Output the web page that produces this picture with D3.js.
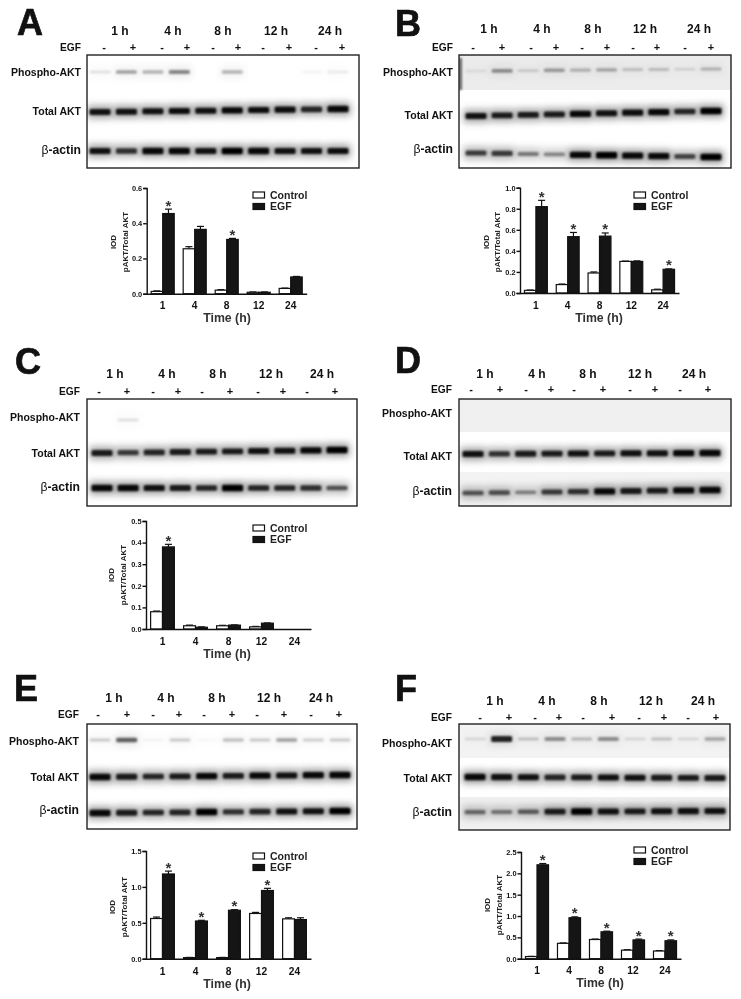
<!DOCTYPE html>
<html>
<head>
    <meta charset="UTF-8">
    <title>AKT phosphorylation after EGF</title>
    <style>
        body { margin: 0; background: #fff; }
        svg { display: block; filter: blur(0.5px); }
        text { font-family: "Liberation Sans", Arial, sans-serif; font-weight: bold; fill: #111; }
    </style>
</head>
<body>
    <div id="figure"></div>

    <script src="https://d3js.org/d3.v7.min.js"></script>
    <script>
        // shared labels
        var hours = ["1", "4", "8", "12", "24"];
        var timeLabels = ["1 h", "4 h", "8 h", "12 h", "24 h"];
        var signs = ["-", "+", "-", "+", "-", "+", "-", "+", "-", "+"];
        var rowNames = ["Phospho-AKT", "Total AKT", "-actin"];
        var seriesNames = ["Control", "EGF"];

        // bar values
        var controlA = [0.013, 0.255, 0.02, 0.008, 0.03];
        var egfA = [0.455, 0.365, 0.308, 0.008, 0.095];
        var controlErrA = [0.003, 0.012, 0.003, 0.002, 0.002];
        var egfErrA = [0.025, 0.017, 0.006, 0.002, 0.003];
        var starsA = ["1", "8"];

        var controlB = [0.025, 0.08, 0.19, 0.30, 0.03];
        var egfB = [0.82, 0.535, 0.54, 0.30, 0.225];
        var controlErrB = [0.003, 0.005, 0.01, 0.003, 0.006];
        var egfErrB = [0.06, 0.04, 0.03, 0.005, 0.004];
        var starsB = ["1", "4", "8", "24"];

        var controlC = [0.08, 0.015, 0.015, 0.01, 0];
        var egfC = [0.38, 0.008, 0.018, 0.027, 0];
        var controlErrC = [0.003, 0.003, 0.002, 0.002, 0];
        var egfErrC = [0.012, 0.002, 0.001, 0.001, 0];
        var starsC = ["1"];

        var controlE = [0.56, 0.015, 0.015, 0.63, 0.555];
        var egfE = [1.18, 0.525, 0.675, 0.95, 0.545];
        var controlErrE = [0.02, 0.003, 0.003, 0.015, 0.015];
        var egfErrE = [0.04, 0.01, 0.008, 0.03, 0.025];
        var starsE = ["1", "4", "8", "12"];

        var controlF = [0.05, 0.36, 0.45, 0.20, 0.18];
        var egfF = [2.2, 0.96, 0.63, 0.44, 0.42];
        var controlErrF = [0.005, 0.01, 0.01, 0.01, 0.01];
        var egfErrF = [0.03, 0.02, 0.015, 0.02, 0.02];
        var starsF = ["1", "4", "8", "12", "24"];

        // band darkness per lane, 0 = nothing, 1 = black
        var phosphoA = [0.12, 0.35, 0.28, 0.45, 0, 0.28, 0, 0, 0.05, 0.08];
        var totalA = [0.9, 0.9, 0.9, 0.92, 0.9, 0.95, 0.92, 0.92, 0.8, 0.95];
        var actinA = [0.9, 0.75, 0.95, 0.95, 0.9, 1, 0.95, 0.9, 0.9, 0.92];

        var phosphoB = [0.08, 0.4, 0.15, 0.35, 0.25, 0.3, 0.2, 0.2, 0.12, 0.25];
        var totalB = [0.9, 0.85, 0.85, 0.85, 0.95, 0.9, 0.92, 0.95, 0.8, 1];
        var actinB = [0.7, 0.7, 0.45, 0.4, 0.95, 1, 0.95, 0.95, 0.65, 1];

        var phosphoC = [0, 0.12, 0, 0, 0, 0, 0, 0, 0, 0];
        var totalC = [0.85, 0.7, 0.8, 0.85, 0.85, 0.85, 0.9, 0.9, 0.95, 1];
        var actinC = [0.95, 0.95, 0.9, 0.85, 0.8, 1, 0.8, 0.8, 0.75, 0.6];

        var phosphoD = [0, 0, 0, 0, 0, 0, 0, 0, 0, 0];
        var totalD = [0.9, 0.75, 0.85, 0.85, 0.9, 0.85, 0.9, 0.9, 0.95, 0.95];
        var actinD = [0.6, 0.6, 0.4, 0.7, 0.75, 0.95, 0.85, 0.85, 0.95, 0.95];

        var phosphoE = [0.2, 0.6, 0.05, 0.2, 0.03, 0.25, 0.2, 0.35, 0.18, 0.2];
        var totalE = [0.95, 0.85, 0.8, 0.85, 0.95, 0.85, 0.95, 0.9, 0.95, 0.95];
        var actinE = [0.95, 0.85, 0.8, 0.8, 1, 0.75, 0.8, 0.9, 0.9, 1];

        var phosphoF = [0.12, 0.85, 0.2, 0.4, 0.25, 0.4, 0.12, 0.2, 0.12, 0.3];
        var totalF = [0.95, 0.9, 0.9, 0.8, 0.85, 0.9, 0.9, 0.85, 0.85, 0.85];
        var actinF = [0.5, 0.45, 0.55, 0.85, 1, 0.9, 0.85, 0.9, 0.9, 0.9];

        // panel layout in page pixels
        var blotPanels = [
            { letter: "A", letterX: 17, letterY: 35, box: [87, 55, 359, 168], labelRight: 81, egfY: 47, timeY: 31,
              timeX: [120, 173, 223, 276, 330],
              signX: [104, 133, 162, 187, 213, 238, 263, 289, 316, 342],
              lanes: [100, 338], labelY: [72, 111, 150],
              bandY: [[72, 72], [112, 109], [151, 151]],
              wash: [],
              rows: [phosphoA, totalA, actinA] },
            { letter: "B", letterX: 395, letterY: 36, box: [459, 55, 731, 168], labelRight: 453, egfY: 47, timeY: 29,
              timeX: [489, 542, 593, 645, 699],
              signX: [473, 502, 531, 556, 582, 607, 633, 657, 685, 711],
              lanes: [476, 711], labelY: [72, 115, 149],
              bandY: [[71, 69], [116, 111], [153, 157]],
              wash: [[55, 90, "#ececec"]],
              smear: [459, 462, 58, 90],
              rows: [phosphoB, totalB, actinB] },
            { letter: "C", letterX: 15, letterY: 374, box: [87, 399, 357, 506], labelRight: 80, egfY: 391, timeY: 374,
              timeX: [115, 167, 218, 271, 322],
              signX: [99, 127, 153, 178, 202, 230, 258, 283, 307, 335],
              lanes: [102, 337], labelY: [417, 453, 487],
              bandY: [[420, 420], [453, 450], [488, 488]],
              wash: [],
              rows: [phosphoC, totalC, actinC] },
            { letter: "D", letterX: 395, letterY: 373, box: [459, 399, 731, 506], labelRight: 452, egfY: 389, timeY: 374,
              timeX: [485, 537, 588, 640, 694],
              signX: [471, 500, 526, 551, 574, 603, 630, 655, 680, 708],
              lanes: [473, 710], labelY: [413, 456, 491],
              bandY: [[416, 416], [454, 453], [493, 490]],
              wash: [[399, 432, "#f0f0f0"], [472, 506, "#f3f3f3"]],
              rows: [phosphoD, totalD, actinD] },
            { letter: "E", letterX: 14, letterY: 701, box: [87, 724, 357, 829], labelRight: 79, egfY: 714, timeY: 698,
              timeX: [114, 166, 217, 269, 321],
              signX: [98, 127, 153, 179, 204, 232, 257, 284, 311, 339],
              lanes: [100, 340], labelY: [741, 777, 810],
              bandY: [[740, 740], [777, 775], [813, 811]],
              wash: [],
              rows: [phosphoE, totalE, actinE] },
            { letter: "F", letterX: 395, letterY: 701, box: [459, 724, 730, 830], labelRight: 452, egfY: 717, timeY: 701,
              timeX: [495, 547, 599, 651, 703],
              signX: [480, 509, 535, 559, 583, 612, 639, 664, 688, 716],
              lanes: [475, 715], labelY: [743, 778, 812],
              bandY: [[739, 739], [777, 778], [812, 811]],
              wash: [[724, 758, "#f3f3f3"], [797, 830, "#f0f0f0"]],
              rows: [phosphoF, totalF, actinF] }
        ];

        var barPanels = [
            { control: controlA, egf: egfA, controlErr: controlErrA, egfErr: egfErrA, stars: starsA,
              yMax: 0.6, yStep: 0.2, x: [146.7, 306.7], y: [293.7, 188], tickY: 305.5, timeX: 227, timeY: 318,
              iodX: 113, ratioX: 125, labelMid: 242, legendX: 253, legendY: 192 },
            { control: controlB, egf: egfB, controlErr: controlErrB, egfErr: egfErrB, stars: starsB,
              yMax: 1.0, yStep: 0.2, x: [520, 679], y: [293, 187.7], tickY: 305, timeX: 599, timeY: 318,
              iodX: 486, ratioX: 497, labelMid: 242, legendX: 634, legendY: 192 },
            { control: controlC, egf: egfC, controlErr: controlErrC, egfErr: egfErrC, stars: starsC,
              yMax: 0.5, yStep: 0.1, x: [146, 311], y: [629, 521], tickY: 641, timeX: 227, timeY: 654,
              iodX: 111, ratioX: 123, labelMid: 575, legendX: 253, legendY: 525 },
            { control: controlE, egf: egfE, controlErr: controlErrE, egfErr: egfErrE, stars: starsE,
              yMax: 1.5, yStep: 0.5, x: [146, 311], y: [958.7, 851], tickY: 971, timeX: 227, timeY: 984,
              iodX: 112, ratioX: 124, labelMid: 907, legendX: 253, legendY: 853 },
            { control: controlF, egf: egfF, controlErr: controlErrF, egfErr: egfErrF, stars: starsF,
              yMax: 2.5, yStep: 0.5, x: [521, 681], y: [958.7, 852], tickY: 970, timeX: 600, timeY: 983,
              iodX: 487, ratioX: 499, labelMid: 905, legendX: 634, legendY: 847 }
        ];

        var svg = d3.select("#figure")
            .append("svg")
            .attr("width", 741)
            .attr("height", 999);

        var defs = svg.append("defs");

        // soft edges for the film bands
        function addBlur(id, amount) {
            defs.append("filter")
                .attr("id", id)
                .attr("filterUnits", "userSpaceOnUse")
                .attr("x", 0).attr("y", 0)
                .attr("width", 741).attr("height", 999)
                .append("feGaussianBlur")
                .attr("stdDeviation", amount);
        }
        addBlur("coreBlur", 1.1);
        addBlur("haloBlur", 3.6);

        // stronger bands are also thicker on the film
        var bandHeight = d3.scaleLinear().domain([0, 1]).range([2, 6.5]);

        blotPanels.forEach(drawBlot);
        barPanels.forEach(drawBars);

        function drawBlot(p, index) {
            var g = svg.append("g");
            var box = p.box;
            var clipId = "blot" + index;

            defs.append("clipPath").attr("id", clipId)
                .append("rect")
                .attr("x", box[0]).attr("y", box[1])
                .attr("width", box[2] - box[0]).attr("height", box[3] - box[1]);

            g.append("text")
                .attr("x", p.letterX)
                .attr("y", p.letterY)
                .style("font-size", "36px")
                .style("stroke", "#111")
                .style("stroke-width", 0.7)
                .text(p.letter);

            g.selectAll(".time").data(timeLabels).enter().append("text")
                .attr("x", function (d, i) { return p.timeX[i]; })
                .attr("y", p.timeY)
                .attr("dy", "0.35em")
                .attr("text-anchor", "middle")
                .style("font-size", "12px")
                .text(function (d) { return d; });

            g.append("text")
                .attr("x", p.labelRight)
                .attr("y", p.egfY)
                .attr("dy", "0.35em")
                .attr("text-anchor", "end")
                .style("font-size", "10.2px")
                .text("EGF");

            g.selectAll(".sign").data(signs).enter().append("text")
                .attr("x", function (d, i) { return p.signX[i]; })
                .attr("y", p.egfY)
                .attr("dy", "0.35em")
                .attr("text-anchor", "middle")
                .style("font-size", "11px")
                .text(function (d) { return d; });

            // row names, the beta is a thin glyph in front of bold text
            rowNames.forEach(function (name, r) {
                var label = g.append("text")
                    .attr("x", p.labelRight)
                    .attr("y", p.labelY[r])
                    .attr("dy", "0.35em")
                    .attr("text-anchor", "end")
                    .style("font-size", r == 2 ? "12.2px" : "10.5px");
                if (r == 2) {
                    label.append("tspan").style("font-weight", "normal").text("\u03b2");
                }
                label.append("tspan").text(name);
            });

            // film
            var film = g.append("g").attr("clip-path", "url(#" + clipId + ")");
            film.selectAll(".wash").data(p.wash).enter().append("rect")
                .attr("x", box[0]).attr("width", box[2] - box[0])
                .attr("y", function (d) { return d[0]; })
                .attr("height", function (d) { return d[1] - d[0]; })
                .attr("fill", function (d) { return d[2]; });

            // dark smear at the film edge, panel B only
            if (p.smear) {
                film.append("rect")
                    .attr("x", p.smear[0]).attr("width", p.smear[1] - p.smear[0])
                    .attr("y", p.smear[2]).attr("height", p.smear[3] - p.smear[2])
                    .attr("fill", "#666")
                    .attr("filter", "url(#coreBlur)");
            }

            var laneX = d3.scalePoint().domain(d3.range(10)).range(p.lanes);

            p.rows.forEach(function (row, r) {
                // bands drift a little from left to right across the film
                var laneY = d3.scaleLinear().domain([0, 9]).range(p.bandY[r]);
                var haloStrength = r == 0 ? 0.14 : 0.4;

                film.append("g").attr("filter", "url(#haloBlur)")
                    .selectAll("rect").data(row).enter().append("rect")
                    .attr("x", function (d, i) { return laneX(i) - 12.5; })
                    .attr("y", function (d, i) { return laneY(i) - 6.5; })
                    .attr("width", 25)
                    .attr("height", 13)
                    .attr("fill", "#000")
                    .attr("opacity", function (d) { return d * haloStrength; });

                film.append("g").attr("filter", "url(#coreBlur)")
                    .selectAll("rect").data(row).enter().append("rect")
                    .attr("x", function (d, i) { return laneX(i) - 10.5; })
                    .attr("y", function (d, i) { return laneY(i) - bandHeight(d) / 2; })
                    .attr("width", 21)
                    .attr("height", function (d) { return bandHeight(d); })
                    .attr("rx", 1.5)
                    .attr("fill", "#000")
                    .attr("opacity", function (d) { return d; });
            });

            g.append("rect")
                .attr("x", box[0]).attr("y", box[1])
                .attr("width", box[2] - box[0]).attr("height", box[3] - box[1])
                .attr("fill", "none")
                .attr("stroke", "#222")
                .attr("stroke-width", 1.4);
        }

        function drawBars(p) {
            var g = svg.append("g");

            var x = d3.scaleBand().domain(hours).range(p.x).paddingInner(0.28).paddingOuter(0.14);
            var side = d3.scaleBand().domain(seriesNames).range([0, x.bandwidth()]);
            var y = d3.scaleLinear().domain([0, p.yMax]).range(p.y);

            var tickValues = d3.range(0, p.yMax + p.yStep / 2, p.yStep);

            var series = [
                { name: "Control", values: p.control, errs: p.controlErr, fill: "#fff" },
                { name: "EGF", values: p.egf, errs: p.egfErr, fill: "#151515" }
            ];

            // a zero value leaves no mark at all
            var shown = function (d) { return d > 0 ? null : "none"; };

            series.forEach(function (s) {
                var bars = g.append("g");
                var cx = function (i) { return x(hours[i]) + side(s.name) + side.bandwidth() / 2; };

                // error bars first, only the upper half shows
                bars.selectAll(".stem").data(s.values).enter().append("line")
                    .attr("display", shown)
                    .attr("x1", function (d, i) { return cx(i); })
                    .attr("x2", function (d, i) { return cx(i); })
                    .attr("y1", function (d) { return y(d); })
                    .attr("y2", function (d, i) { return y(d + s.errs[i]); })
                    .attr("stroke", "#111")
                    .attr("stroke-width", 1.2);
                bars.selectAll(".cap").data(s.values).enter().append("line")
                    .attr("display", shown)
                    .attr("x1", function (d, i) { return cx(i) - 3.5; })
                    .attr("x2", function (d, i) { return cx(i) + 3.5; })
                    .attr("y1", function (d, i) { return y(d + s.errs[i]); })
                    .attr("y2", function (d, i) { return y(d + s.errs[i]); })
                    .attr("stroke", "#111")
                    .attr("stroke-width", 1.2);

                bars.selectAll("rect").data(s.values).enter().append("rect")
                    .attr("display", shown)
                    .attr("x", function (d, i) { return x(hours[i]) + side(s.name); })
                    .attr("y", function (d) { return y(d); })
                    .attr("width", side.bandwidth())
                    .attr("height", function (d) { return y(0) - y(d); })
                    .attr("fill", s.fill)
                    .attr("stroke", "#111")
                    .attr("stroke-width", 1.2);
            });

            // significance marks sit above the EGF error bars
            g.selectAll(".star").data(p.stars).enter().append("text")
                .attr("x", function (d) { return x(d) + x.bandwidth() / 2 + side.bandwidth() / 2; })
                .attr("y", function (d) {
                    var i = hours.indexOf(d);
                    return y(p.egf[i] + p.egfErr[i]) + 1.5;
                })
                .attr("text-anchor", "middle")
                .style("font-size", "15px")
                .style("fill", "#333")
                .text("*");

            var yAxis = d3.axisLeft(y)
                .tickValues(tickValues)
                .tickFormat(d3.format(".1f"))
                .tickSizeOuter(0)
                .tickSize(3.5);
            var xAxis = d3.axisBottom(x)
                .tickSizeOuter(0)
                .tickSize(0);

            var yG = g.append("g").attr("transform", "translate(" + p.x[0] + ",0)").call(yAxis);
            yG.selectAll("text").style("font-size", "7.4px").attr("x", -4.5);
            var xG = g.append("g").attr("transform", "translate(0," + p.y[0] + ")").call(xAxis);
            xG.selectAll("text")
                .attr("y", p.tickY - p.y[0])
                .attr("dy", "0.35em")
                .style("font-size", "10.2px");
            g.selectAll(".domain, .tick line").attr("stroke", "#111").attr("stroke-width", 1.4);

            g.append("text")
                .attr("x", p.timeX)
                .attr("y", p.timeY)
                .attr("dy", "0.35em")
                .attr("text-anchor", "middle")
                .style("font-size", "12.3px")
                .style("fill", "#333")
                .text("Time (h)");

            var yLabels = [["IOD", p.iodX], ["pAKT/Total AKT", p.ratioX]];
            g.selectAll(".ylabel").data(yLabels).enter().append("text")
                .attr("transform", function (d) { return "translate(" + d[1] + "," + p.labelMid + ") rotate(-90)"; })
                .attr("text-anchor", "middle")
                .attr("dy", "0.35em")
                .style("font-size", "8px")
                .style("fill", "#222")
                .text(function (d) { return d[0]; });

            // legend
            var legend = g.selectAll(".legend").data(series).enter().append("g")
                .attr("transform", function (d, i) { return "translate(" + p.legendX + "," + (p.legendY + i * 11.5) + ")"; });
            legend.append("rect")
                .attr("width", 11.5)
                .attr("height", 6)
                .attr("fill", function (d) { return d.fill; })
                .attr("stroke", "#111")
                .attr("stroke-width", 1.2);
            legend.append("text")
                .attr("x", 17)
                .attr("y", 3)
                .attr("dy", "0.35em")
                .style("font-size", "10.5px")
                .style("fill", "#222")
                .text(function (d) { return d.name; });
        }
    </script>
</body>
</html>
